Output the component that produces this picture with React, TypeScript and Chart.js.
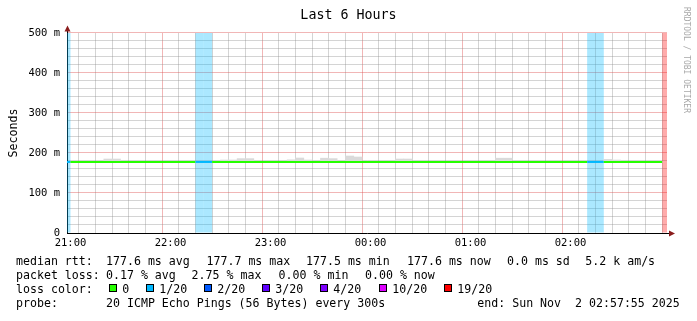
import React, { useEffect, useRef } from "react";
import { Chart, registerables } from "chart.js";

Chart.register(...registerables);

const MONO = "'DejaVu Sans Mono', monospace";

// ---- text ----
const TITLE = "Last 6 Hours";
const Y_AXIS_TITLE = "Seconds";
const WATERMARK = "RRDTOOL / TOBI OETIKER";

// ---- axes ----
const RANGE_START = "20:57:55";
const RANGE_END = "02:57:55";
const HOUR_TICKS = ["21:00", "22:00", "23:00", "00:00", "01:00", "02:00"];
const Y_TICK_VALUES = [0, 100, 200, 300, 400, 500];
const Y_TICK_LABELS = ["0", "100 m", "200 m", "300 m", "400 m", "500 m"];

// ---- series: one value per 5-minute step, first step starts 20:55 ----
const FIRST_STEP = "20:55";
const STEP_MIN = 5;

const medianRtt: (number | null)[] = [
  177.6, 177.6, 177.6, 177.6, 177.6, 177.7, 177.6, 177.6, 177.6, 177.6,
  177.6, 177.6, 177.6, 177.5, 177.6, 177.6, 177.6, 177.6, 177.6, 177.6,
  177.7, 177.6, 177.6, 177.6, 177.6, 177.6, 177.6, 177.7, 177.6, 177.6,
  177.6, 177.6, 177.6, 177.6, 177.7, 177.6, 177.6, 177.6, 177.6, 177.6,
  177.6, 177.6, 177.6, 177.6, 177.6, 177.5, 177.6, 177.6, 177.6, 177.6,
  177.6, 177.6, 177.6, 177.6, 177.6, 177.6, 177.6, 177.6, 177.6, 177.6,
  177.6, 177.6, 177.6, 177.6, 177.6, 177.6, 177.6, 177.6, 177.6, 177.6,
  177.6, 177.6, null,
];

const lossPings: number[] = [
  1, 0, 0, 0, 0, 0, 0, 0, 0, 0,
  0, 0, 0, 0, 0, 0, 1, 1, 0, 0,
  0, 0, 0, 0, 0, 0, 0, 0, 0, 0,
  0, 0, 0, 0, 0, 0, 0, 0, 0, 0,
  0, 0, 0, 0, 0, 0, 0, 0, 0, 0,
  0, 0, 0, 0, 0, 0, 0, 0, 0, 0,
  0, 0, 0, 1, 1, 0, 0, 0, 0, 0,
  0, 0, 20,
];

const smokeTop: (number | null)[] = [
  178.6, 178.6, 178.6, 178.6, 178.6, 185, 185, 178.6, 178.6, 178.6,
  178.6, 178.6, 178.6, 178.6, 178.6, 178.6, 178.6, 178.6, 178.6, 182.5,
  182.5, 186, 186, 178.6, 178.6, 178.6, 178.6, 183, 187.5, 182.5,
  178.6, 187, 186, 178.6, 192.5, 190, 178.6, 178.6, 178.6, 178.6,
  185, 185, 178.6, 178.6, 178.6, 178.6, 178.6, 178.6, 178.6, 178.6,
  178.6, 178.6, 187, 187, 178.6, 178.6, 178.6, 178.6, 178.6, 178.6,
  178.6, 178.6, 178.6, 178.6, 178.6, 184, 182.5, 178.6, 178.6, 178.6,
  178.6, 178.6, null,
];
const SMOKE_BOTTOM = 176.9;

// ---- loss colour legend ----
const LOSS_LEVELS = [0, 1, 2, 3, 4, 10, 19];
const LOSS_LABELS = ["0", "1/20", "2/20", "3/20", "4/20", "10/20", "19/20"];
const LOSS_COLORS = ["#26ff00", "#00b8ff", "#0059ff", "#5e00ff", "#7e00ff", "#dd00ff", "#ff0000"];

// ---- statistics text ----
const RTT_LABEL = "median rtt:";
const RTT_STATS = ["177.6 ms avg", "177.7 ms max", "177.5 ms min", "177.6 ms now", "0.0 ms sd", "5.2 k am/s"];
const LOSS_LABEL = "packet loss:";
const LOSS_STATS = ["0.17 % avg", "2.75 % max", "0.00 % min", "0.00 % now"];
const COLOR_LABEL = "loss color:";
const PROBE_LABEL = "probe:";
const PROBE_TEXT = "20 ICMP Echo Pings (56 Bytes) every 300s";
const END_TEXT = "end: Sun Nov  2 02:57:55 2025";

// ---- helpers ----
function toMin(t: string): number {
  const [h, m, s = 0] = t.split(":").map(Number);
  let v = h * 60 + m + s / 60 - 21 * 60;
  if (v < -180) v += 1440;
  return v;
}
function lossIdx(n: number): number {
  let k = 0;
  for (let j = 0; j < LOSS_LEVELS.length; j++) if (n >= LOSS_LEVELS[j]) k = j;
  return k;
}
function rgba(hex: string, a: number): string {
  const r = parseInt(hex.slice(1, 3), 16);
  const g = parseInt(hex.slice(3, 5), 16);
  const b = parseInt(hex.slice(5, 7), 16);
  return `rgba(${r},${g},${b},${a})`;
}

const MAJOR_GRID = "rgba(222,80,80,0.42)";
const MINOR_GRID = "rgba(143,143,143,0.38)";

const legendPlugin = {
  id: "rrdLegend",
  afterDraw(chart: any) {
    const ctx = chart.ctx as CanvasRenderingContext2D;
    const area = chart.chartArea;
    ctx.save();
    // axis extensions & arrows
    ctx.strokeStyle = "#000";
    ctx.lineWidth = 1;
    ctx.beginPath();
    ctx.moveTo(area.left + 0.5, area.top);
    ctx.lineTo(area.left + 0.5, area.top - 2);
    ctx.moveTo(area.right, area.bottom + 0.5);
    ctx.lineTo(area.right + 3, area.bottom + 0.5);
    ctx.stroke();
    ctx.fillStyle = "#8a1c1c";
    ctx.beginPath();
    ctx.moveTo(area.left + 0.5 - 3, area.top - 1.5);
    ctx.lineTo(area.left + 0.5 + 3, area.top - 1.5);
    ctx.lineTo(area.left + 0.5, area.top - 7.5);
    ctx.closePath();
    ctx.fill();
    ctx.beginPath();
    ctx.moveTo(area.right + 2, area.bottom + 0.5 - 3);
    ctx.lineTo(area.right + 2, area.bottom + 0.5 + 3);
    ctx.lineTo(area.right + 8, area.bottom + 0.5);
    ctx.closePath();
    ctx.fill();

    // watermark
    ctx.save();
    ctx.translate(686.5, 7);
    ctx.rotate(Math.PI / 2);
    ctx.font = `8px ${MONO}`;
    ctx.fillStyle = "#a8a8a8";
    ctx.textBaseline = "middle";
    ctx.textAlign = "left";
    ctx.fillText(WATERMARK, 0, 0);
    ctx.restore();

    // legend rows
    ctx.font = `11.6px ${MONO}`;
    ctx.fillStyle = "#000";
    ctx.textBaseline = "alphabetic";
    ctx.textAlign = "left";
    const rows = [264.5, 278.6, 292.8, 306.9];
    const labelX = 16;
    ctx.fillText(RTT_LABEL, labelX, rows[0]);
    const rttX = [106, 206.5, 306, 407, 507, 585.3];
    RTT_STATS.forEach((s, i) => ctx.fillText(s, rttX[i], rows[0]));
    ctx.fillText(LOSS_LABEL, labelX, rows[1]);
    const lossX = [106, 191.6, 278.6, 365];
    LOSS_STATS.forEach((s, i) => ctx.fillText(s, lossX[i], rows[1]));
    ctx.fillText(COLOR_LABEL, labelX, rows[2]);
    const boxX = [109, 146, 204, 262, 320, 379, 444];
    LOSS_LABELS.forEach((s, i) => {
      const bx = boxX[i];
      ctx.fillStyle = LOSS_COLORS[i];
      ctx.fillRect(bx, 284, 8, 8);
      ctx.strokeStyle = "#000";
      ctx.strokeRect(bx + 0.5, 284.5, 7, 7);
      ctx.fillStyle = "#000";
      ctx.fillText(s, bx + 13.3, rows[2]);
    });
    ctx.fillText(PROBE_LABEL, labelX, rows[3]);
    ctx.fillText(PROBE_TEXT, 106, rows[3]);
    ctx.fillText(END_TEXT, 477.3, rows[3]);
    ctx.restore();
  },
};

export default function App() {
  const ref = useRef<HTMLCanvasElement>(null);

  useEffect(() => {
    const first = toMin(FIRST_STEP);
    const slotStart = (i: number) => first + i * STEP_MIN;
    const xMin = toMin(RANGE_START);
    const xMax = toMin(RANGE_END);
    const yMax = Y_TICK_VALUES[Y_TICK_VALUES.length - 1];

    const bandData = lossPings
      .map((n, i) => (n > 0 ? { x: slotStart(i) + STEP_MIN / 2, y: [0, yMax], loss: n } : null))
      .filter(Boolean);

    const smokeData = smokeTop
      .map((v, i) => (v == null ? null : { x: slotStart(i) + STEP_MIN / 2, y: [SMOKE_BOTTOM, v] }))
      .filter(Boolean);

    const lineData: any[] = [];
    let last = -1;
    medianRtt.forEach((v, i) => {
      if (v != null) {
        lineData.push({ x: slotStart(i), y: v, loss: lossPings[i] });
        last = i;
      }
    });
    if (last >= 0) lineData.push({ x: slotStart(last + 1), y: medianRtt[last], loss: lossPings[last] });

    const minorTicks: number[] = [];
    for (let v = 0; v <= xMax; v += 10) minorTicks.push(v);

    const chart = new Chart(ref.current as HTMLCanvasElement, {
      type: "bar",
      data: {
        datasets: [
          {
            type: "line",
            data: lineData,
            borderWidth: 2,
            pointRadius: 0,
            stepped: "after",
            fill: false,
            order: 0,
            borderColor: LOSS_COLORS[0],
            segment: {
              borderColor: (c: any) => LOSS_COLORS[lossIdx(lineData[c.p0DataIndex].loss)],
            },
          } as any,
          {
            type: "bar",
            data: smokeData as any,
            backgroundColor: "#dadada",
            borderWidth: 0,
            grouped: false,
            barPercentage: 1,
            categoryPercentage: 1,
            order: 1,
          } as any,
          {
            type: "bar",
            data: bandData as any,
            backgroundColor: (c: any) => rgba(LOSS_COLORS[lossIdx(c.raw ? c.raw.loss : 0)], 0.33),
            borderWidth: 0,
            inflateAmount: 0,
            grouped: false,
            barPercentage: 1,
            categoryPercentage: 1,
            order: 2,
          } as any,
        ],
      },
      options: {
        responsive: false,
        animation: false,
        devicePixelRatio: 1,
        layout: { padding: { left: 0, right: 0, top: 0, bottom: 68 } },
        plugins: {
          legend: { display: false },
          tooltip: { enabled: false },
          title: {
            display: true,
            text: TITLE,
            color: "#000",
            font: { family: MONO, size: 13.33, weight: "normal", lineHeight: 1.2 },
            padding: { top: 8, bottom: 9 },
          },
        },
        scales: {
          x: {
            type: "linear",
            min: xMin,
            max: xMax,
            offset: false,
            afterBuildTicks: (s: any) => {
              s.ticks = minorTicks.map((v) => ({ value: v }));
            },
            afterFit: (s: any) => {
              s.height = 20;
            },
            grid: {
              color: (c: any) => (c.tick && c.tick.value % 60 === 0 ? MAJOR_GRID : MINOR_GRID),
              drawTicks: false,
              lineWidth: 1,
            },
            border: { color: "#000", width: 1 },
            ticks: {
              autoSkip: false,
              maxRotation: 0,
              padding: 4,
              color: "#000",
              font: { family: MONO, size: 10.5 },
              callback: (v: any) => (v % 60 === 0 ? HOUR_TICKS[v / 60] ?? "" : ""),
            },
          },
          y: {
            type: "linear",
            position: "left",
            min: 0,
            max: yMax,
            afterFit: (s: any) => {
              s.width = 67;
            },
            grid: {
              color: (c: any) => (c.tick && c.tick.value % 100 === 0 ? MAJOR_GRID : MINOR_GRID),
              drawTicks: false,
              lineWidth: 1,
            },
            border: { color: "#000", width: 1 },
            ticks: {
              stepSize: 20,
              autoSkip: false,
              padding: 7,
              color: "#000",
              font: { family: MONO, size: 10.5 },
              callback: (v: any) => {
                const k = Y_TICK_VALUES.indexOf(v);
                return k >= 0 ? Y_TICK_LABELS[k] : "";
              },
            },
            title: {
              display: true,
              text: Y_AXIS_TITLE,
              color: "#000",
              font: { family: MONO, size: 11.6, lineHeight: 1.2 },
              padding: { top: 7, bottom: 0 },
            },
          },
          yRight: {
            type: "linear",
            position: "right",
            display: true,
            min: 0,
            max: 1,
            grid: { display: false, drawTicks: false },
            border: { display: false },
            ticks: { display: false },
            afterFit: (s: any) => {
              s.width = 30;
            },
          },
        },
      } as any,
      plugins: [legendPlugin],
    });
    return () => chart.destroy();
  }, []);

  return (
    <div style={{ position: "fixed", left: 0, top: 0, width: 697, height: 321, background: "#fff" }}>
      <canvas ref={ref} width={697} height={321} style={{ display: "block", width: 697, height: 321 }} />
    </div>
  );
}
